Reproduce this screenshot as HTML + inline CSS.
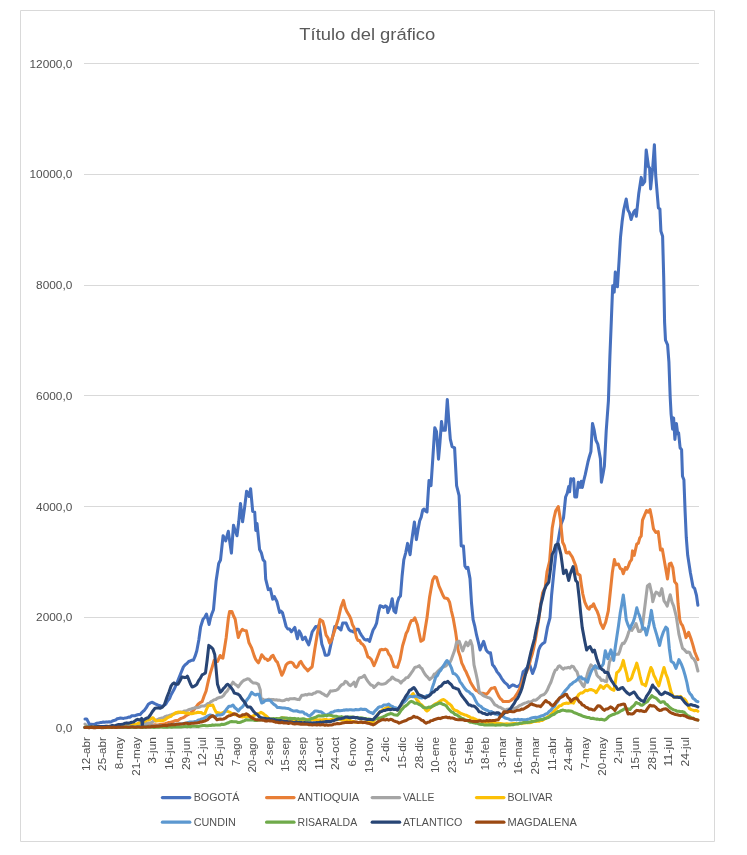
<!DOCTYPE html>
<html lang="es"><head><meta charset="utf-8"><title>Título del gráfico</title>
<style>html,body{margin:0;padding:0;background:#fff}svg{display:block}text{font-family:"Liberation Sans",sans-serif}</style></head>
<body>
<svg width="747" height="855" viewBox="0 0 747 855">
<rect x="0" y="0" width="747" height="855" fill="#fff"/>
<path d="M20.5 841.5 V10.5 H714.5 V841.5 Z" fill="none" stroke="#D9D9D9" stroke-width="1"/>
<text x="367.3" y="40.3" font-size="17.2" fill="#595959" text-anchor="middle" textLength="136" lengthAdjust="spacingAndGlyphs">Título del gráfico</text>
<g stroke="#D9D9D9" stroke-width="1" shape-rendering="crispEdges">
<line x1="84.3" y1="728.5" x2="698.6" y2="728.5"/>
<line x1="84.3" y1="617.5" x2="698.6" y2="617.5"/>
<line x1="84.3" y1="506.5" x2="698.6" y2="506.5"/>
<line x1="84.3" y1="395.5" x2="698.6" y2="395.5"/>
<line x1="84.3" y1="285.5" x2="698.6" y2="285.5"/>
<line x1="84.3" y1="174.5" x2="698.6" y2="174.5"/>
<line x1="84.3" y1="63.5" x2="698.6" y2="63.5"/>
</g>
<g font-size="11.2" text-anchor="end" fill="#505050">
<text x="72.3" y="732.1" textLength="16.5" lengthAdjust="spacingAndGlyphs">0,0</text>
<text x="72.3" y="621.3" textLength="36.2" lengthAdjust="spacingAndGlyphs">2000,0</text>
<text x="72.3" y="510.6" textLength="36.2" lengthAdjust="spacingAndGlyphs">4000,0</text>
<text x="72.3" y="399.8" textLength="36.2" lengthAdjust="spacingAndGlyphs">6000,0</text>
<text x="72.3" y="289.0" textLength="36.2" lengthAdjust="spacingAndGlyphs">8000,0</text>
<text x="72.3" y="178.2" textLength="42.8" lengthAdjust="spacingAndGlyphs">10000,0</text>
<text x="72.3" y="67.5" textLength="42.8" lengthAdjust="spacingAndGlyphs">12000,0</text>
</g>
<g font-size="11.1" text-anchor="end" fill="#505050">
<text transform="translate(89.84,737.0) rotate(-90)" textLength="33.9" lengthAdjust="spacingAndGlyphs">12-abr</text>
<text transform="translate(106.48,737.0) rotate(-90)" textLength="33.9" lengthAdjust="spacingAndGlyphs">25-abr</text>
<text transform="translate(123.11,737.0) rotate(-90)" textLength="32.3" lengthAdjust="spacingAndGlyphs">8-may</text>
<text transform="translate(139.75,737.0) rotate(-90)" textLength="38.7" lengthAdjust="spacingAndGlyphs">21-may</text>
<text transform="translate(156.39,737.0) rotate(-90)" textLength="26.7" lengthAdjust="spacingAndGlyphs">3-jun</text>
<text transform="translate(173.03,737.0) rotate(-90)" textLength="33.1" lengthAdjust="spacingAndGlyphs">16-jun</text>
<text transform="translate(189.66,737.0) rotate(-90)" textLength="33.1" lengthAdjust="spacingAndGlyphs">29-jun</text>
<text transform="translate(206.30,737.0) rotate(-90)" textLength="29.4" lengthAdjust="spacingAndGlyphs">12-jul</text>
<text transform="translate(222.94,737.0) rotate(-90)" textLength="29.4" lengthAdjust="spacingAndGlyphs">25-jul</text>
<text transform="translate(239.58,737.0) rotate(-90)" textLength="29.1" lengthAdjust="spacingAndGlyphs">7-ago</text>
<text transform="translate(256.21,737.0) rotate(-90)" textLength="35.5" lengthAdjust="spacingAndGlyphs">20-ago</text>
<text transform="translate(272.85,737.0) rotate(-90)" textLength="28.3" lengthAdjust="spacingAndGlyphs">2-sep</text>
<text transform="translate(289.49,737.0) rotate(-90)" textLength="34.7" lengthAdjust="spacingAndGlyphs">15-sep</text>
<text transform="translate(306.12,737.0) rotate(-90)" textLength="34.7" lengthAdjust="spacingAndGlyphs">28-sep</text>
<text transform="translate(322.76,737.0) rotate(-90)" textLength="33.1" lengthAdjust="spacingAndGlyphs">11-oct</text>
<text transform="translate(339.40,737.0) rotate(-90)" textLength="33.1" lengthAdjust="spacingAndGlyphs">24-oct</text>
<text transform="translate(356.04,737.0) rotate(-90)" textLength="29.4" lengthAdjust="spacingAndGlyphs">6-nov</text>
<text transform="translate(372.67,737.0) rotate(-90)" textLength="35.9" lengthAdjust="spacingAndGlyphs">19-nov</text>
<text transform="translate(389.31,737.0) rotate(-90)" textLength="25.3" lengthAdjust="spacingAndGlyphs">2-dic</text>
<text transform="translate(405.95,737.0) rotate(-90)" textLength="31.7" lengthAdjust="spacingAndGlyphs">15-dic</text>
<text transform="translate(422.59,737.0) rotate(-90)" textLength="31.7" lengthAdjust="spacingAndGlyphs">28-dic</text>
<text transform="translate(439.22,737.0) rotate(-90)" textLength="36.1" lengthAdjust="spacingAndGlyphs">10-ene</text>
<text transform="translate(455.86,737.0) rotate(-90)" textLength="36.1" lengthAdjust="spacingAndGlyphs">23-ene</text>
<text transform="translate(472.50,737.0) rotate(-90)" textLength="27.2" lengthAdjust="spacingAndGlyphs">5-feb</text>
<text transform="translate(489.13,737.0) rotate(-90)" textLength="33.6" lengthAdjust="spacingAndGlyphs">18-feb</text>
<text transform="translate(505.77,737.0) rotate(-90)" textLength="31.0" lengthAdjust="spacingAndGlyphs">3-mar</text>
<text transform="translate(522.41,737.0) rotate(-90)" textLength="37.4" lengthAdjust="spacingAndGlyphs">16-mar</text>
<text transform="translate(539.05,737.0) rotate(-90)" textLength="37.4" lengthAdjust="spacingAndGlyphs">29-mar</text>
<text transform="translate(555.68,737.0) rotate(-90)" textLength="33.9" lengthAdjust="spacingAndGlyphs">11-abr</text>
<text transform="translate(572.32,737.0) rotate(-90)" textLength="33.9" lengthAdjust="spacingAndGlyphs">24-abr</text>
<text transform="translate(588.96,737.0) rotate(-90)" textLength="32.3" lengthAdjust="spacingAndGlyphs">7-may</text>
<text transform="translate(605.60,737.0) rotate(-90)" textLength="38.7" lengthAdjust="spacingAndGlyphs">20-may</text>
<text transform="translate(622.23,737.0) rotate(-90)" textLength="26.7" lengthAdjust="spacingAndGlyphs">2-jun</text>
<text transform="translate(638.87,737.0) rotate(-90)" textLength="33.1" lengthAdjust="spacingAndGlyphs">15-jun</text>
<text transform="translate(655.51,737.0) rotate(-90)" textLength="33.1" lengthAdjust="spacingAndGlyphs">28-jun</text>
<text transform="translate(672.15,737.0) rotate(-90)" textLength="29.4" lengthAdjust="spacingAndGlyphs">11-jul</text>
<text transform="translate(688.78,737.0) rotate(-90)" textLength="29.4" lengthAdjust="spacingAndGlyphs">24-jul</text>
</g>
<g fill="none" stroke-width="3.05" stroke-linejoin="round" stroke-linecap="round">
<polyline stroke="#4670BE" points="85.0,719.0 86.7,719.0 88.1,721.6 89.4,724.4 91.4,724.2 93.4,724.4 95.1,724.1 96.8,723.2 98.4,723.1 100.1,722.6 101.6,722.4 103.2,722.1 104.7,722.3 106.2,721.9 107.7,722.1 109.3,721.8 110.8,722.0 112.4,721.0 114.0,720.5 115.6,720.1 117.2,718.8 118.8,718.4 120.4,718.0 122.0,718.2 123.7,718.4 125.3,717.9 126.9,717.7 128.6,717.1 130.2,717.1 131.8,715.8 133.5,715.7 135.2,715.7 136.8,715.0 138.5,714.5 140.2,714.6 141.6,712.8 142.9,711.5 144.3,710.3 146.3,707.6 148.3,704.3 150.3,702.9 152.3,702.3 154.3,703.4 156.3,704.3 158.1,705.2 159.9,705.7 161.7,706.6 163.7,705.5 165.7,704.3 167.7,700.8 169.7,698.3 171.1,694.8 172.6,692.1 174.0,689.6 176.0,685.2 178.0,680.2 180.7,673.5 182.1,670.1 183.4,666.9 185.2,664.7 186.9,663.5 188.7,661.5 190.3,661.0 191.8,660.2 193.4,660.2 195.1,656.2 196.8,650.8 198.8,640.0 200.6,627.0 203.0,619.2 204.8,617.3 206.5,614.0 209.1,624.4 210.4,618.4 211.8,614.0 213.5,609.7 216.1,580.9 218.7,563.5 220.5,560.0 223.1,535.7 225.7,540.9 228.3,531.3 229.9,542.5 231.4,553.1 233.5,525.2 235.2,530.6 237.0,535.7 238.8,521.3 240.5,503.5 242.6,521.8 244.6,507.6 246.6,491.3 249.2,496.5 250.6,488.7 252.7,511.3 254.7,512.2 255.8,530.5 257.0,523.5 259.6,549.6 261.3,552.7 263.1,559.8 264.8,561.8 265.7,579.2 268.3,589.6 270.4,588.8 272.7,599.2 274.4,596.6 277.0,601.8 279.6,612.5 281.0,611.2 282.4,612.5 284.2,619.2 286.1,626.5 287.8,629.0 289.6,629.0 291.3,631.8 293.1,629.6 294.8,627.4 297.4,638.7 299.2,630.9 300.9,633.9 302.6,639.6 305.2,637.0 306.9,641.4 308.7,644.8 310.4,639.0 312.2,631.8 313.9,629.4 315.7,626.5 317.4,626.9 319.2,625.0 321.8,644.0 323.6,649.2 325.3,655.3 327.0,655.3 328.7,654.4 331.4,642.2 333.1,634.6 334.8,626.5 336.6,627.2 338.3,627.4 340.9,630.0 342.7,623.1 344.4,623.0 346.1,623.1 347.6,626.7 349.0,629.6 350.5,630.9 351.9,631.1 353.4,632.0 354.8,631.8 356.6,629.2 358.3,629.2 359.8,632.4 361.2,634.8 362.7,637.0 364.4,639.4 366.1,640.0 367.9,639.6 369.6,641.3 371.4,635.3 373.1,630.0 374.9,627.1 376.6,623.1 378.4,612.8 380.1,605.7 381.9,606.4 383.6,607.4 385.3,605.9 387.0,606.8 387.8,612.6 390.4,606.5 392.2,598.7 393.9,610.9 395.7,612.6 397.4,602.2 398.9,597.7 400.5,596.0 402.1,576.0 403.8,559.8 405.7,552.8 407.6,543.4 410.1,554.7 411.5,542.2 413.0,531.8 414.4,522.0 416.4,539.6 418.0,529.7 419.7,520.8 421.2,517.1 422.7,510.2 424.1,509.0 425.6,511.2 427.0,512.0 429.0,480.5 431.0,485.6 432.9,456.9 434.8,427.7 436.5,431.5 438.5,459.2 440.0,442.0 441.5,421.5 442.8,430.3 445.3,430.3 447.3,399.6 448.8,420.7 450.3,439.0 452.1,446.6 454.6,447.9 456.6,485.6 459.1,495.6 461.2,545.9 463.4,545.9 464.9,566.0 466.4,568.3 467.9,567.3 470.0,578.6 471.5,603.0 473.1,619.6 474.9,626.7 476.6,635.2 478.4,642.4 480.1,650.0 481.9,645.3 483.6,641.3 486.2,650.0 487.6,651.8 489.1,652.9 490.5,652.7 492.5,664.8 494.0,666.4 495.5,668.8 497.0,671.8 498.5,673.5 500.1,675.7 501.6,678.3 503.1,680.5 504.6,682.4 506.1,683.6 507.6,684.9 509.1,687.5 510.9,686.1 512.6,684.9 514.1,685.3 515.5,686.1 517.0,686.6 518.8,686.0 520.5,684.0 523.1,671.8 524.5,670.7 526.0,668.9 527.4,667.4 529.2,663.1 530.9,668.5 532.6,673.5 535.2,666.6 537.0,658.7 538.7,650.0 540.5,645.9 542.2,644.0 544.8,642.2 547.4,627.4 550.0,617.8 551.6,595.0 553.9,571.8 556.5,547.5 558.0,541.7 559.4,533.6 560.9,524.8 563.5,517.9 565.6,497.0 567.2,493.4 568.7,486.5 569.6,491.8 570.8,478.7 572.2,480.0 573.6,478.7 574.8,497.0 576.6,497.0 578.3,482.2 580.0,487.4 581.3,481.3 582.3,487.4 583.8,480.4 585.3,474.4 587.9,462.2 589.4,456.5 590.9,451.6 592.5,423.5 594.2,430.2 595.9,440.3 597.8,444.1 600.4,458.7 601.4,482.2 602.9,474.7 604.4,466.0 606.2,431.0 608.4,401.0 609.9,356.1 611.4,318.7 612.7,285.8 614.2,292.1 615.3,272.1 617.4,286.8 619.1,260.5 620.5,237.4 622.1,221.8 623.7,210.0 626.2,199.1 627.9,210.0 629.5,212.8 631.1,219.5 632.5,215.1 633.9,211.7 635.3,210.0 636.3,216.3 638.8,193.2 641.2,177.4 642.6,184.7 644.7,181.6 646.2,150.0 648.5,166.8 649.6,167.9 650.6,188.9 652.7,167.9 654.4,144.7 655.7,175.3 658.4,207.9 659.9,208.9 660.9,231.1 662.6,236.3 663.7,277.4 664.6,322.5 665.5,340.2 667.6,344.9 668.9,361.8 670.2,397.3 671.1,414.1 672.6,429.1 673.6,417.9 674.9,439.4 676.4,423.5 677.7,433.8 678.6,432.9 680.1,447.8 681.6,449.7 682.5,476.3 683.9,479.8 685.1,511.4 686.3,537.7 687.7,555.3 690.4,572.8 693.0,586.8 694.7,588.6 696.5,595.5 697.9,605.2"/>
<polyline stroke="#E87E36" points="85.0,727.0 86.6,726.9 88.2,726.7 89.9,726.6 91.5,726.7 93.1,726.6 94.7,726.7 96.3,726.5 97.9,727.0 99.6,726.8 101.2,726.5 102.8,726.5 104.4,726.6 106.0,726.5 107.6,726.3 109.3,726.8 110.9,726.8 112.5,726.5 114.1,726.5 115.7,726.2 117.4,726.2 119.0,726.3 120.6,726.2 122.2,726.5 123.8,726.1 125.4,726.0 127.1,726.5 128.7,726.2 130.3,725.9 131.9,726.2 133.5,725.8 135.1,726.1 136.8,726.4 138.4,726.3 140.0,726.0 141.7,726.0 143.3,725.6 145.0,725.5 146.7,725.3 148.3,725.6 150.0,725.3 151.7,725.3 153.3,724.9 155.0,724.7 156.7,725.0 158.3,725.0 160.0,724.5 161.7,724.4 163.3,724.0 165.0,723.7 166.7,723.3 168.3,722.6 170.0,722.4 171.6,722.0 173.2,721.5 174.8,720.8 176.4,720.4 178.0,720.4 179.6,719.3 181.1,718.4 182.7,717.9 184.3,717.2 185.8,715.9 187.4,715.0 189.1,714.1 190.8,712.8 192.4,711.5 194.1,709.7 196.1,706.9 198.1,704.3 200.1,702.7 202.1,701.7 204.1,696.0 206.1,691.0 207.5,684.7 208.8,678.8 210.2,673.5 212.2,667.1 214.2,660.2 215.8,661.7 217.5,661.5 220.2,655.5 221.6,657.6 222.9,658.2 224.6,647.7 226.2,637.4 228.4,618.0 229.6,611.4 231.8,611.4 233.5,615.8 235.2,619.2 236.8,629.2 238.3,637.4 240.3,632.2 242.3,629.4 244.3,630.5 246.3,630.7 249.0,642.8 251.7,648.1 254.3,656.1 255.7,659.3 257.0,661.2 258.4,662.8 260.0,659.4 261.7,654.8 263.4,656.7 265.0,658.8 266.4,658.9 267.8,660.5 269.6,659.4 271.3,656.6 273.1,655.3 274.5,658.3 276.0,661.0 277.4,662.2 278.9,666.4 280.3,670.7 281.8,675.3 283.2,672.7 284.7,668.8 286.1,664.8 287.8,663.2 289.6,662.3 291.3,662.2 293.0,663.2 294.8,666.5 296.5,667.4 298.0,666.0 299.4,662.6 300.9,661.4 302.6,664.5 304.4,667.2 306.1,668.8 307.9,670.9 309.3,669.2 310.8,668.1 312.2,666.6 314.8,649.2 317.4,633.5 320.0,619.6 322.7,621.3 324.4,627.1 326.1,635.2 327.9,637.8 329.6,643.1 331.4,640.4 333.1,635.2 334.8,630.1 336.6,624.3 338.3,618.7 340.9,607.4 343.5,600.4 345.2,607.6 347.0,611.8 349.6,616.1 351.1,619.7 352.5,624.8 354.0,627.4 356.6,637.9 358.0,640.5 359.5,640.6 360.9,643.1 362.6,644.2 364.4,646.6 366.1,651.3 367.9,657.0 369.6,657.7 371.4,659.6 374.0,665.7 375.8,661.5 377.5,657.0 380.1,650.0 381.8,649.4 383.6,649.8 385.3,649.1 387.0,650.0 388.7,654.0 390.4,656.1 392.1,661.0 393.9,666.6 395.6,666.9 397.4,667.4 400.0,659.6 402.6,645.7 404.4,639.8 406.1,633.5 407.8,630.4 409.6,624.6 411.3,620.5 413.1,620.5 414.8,617.8 417.4,624.8 419.1,633.1 420.9,641.3 423.5,639.6 425.2,628.8 427.0,617.8 429.6,597.0 431.1,588.5 432.7,579.9 434.6,576.6 436.5,577.4 439.0,586.2 440.9,590.4 442.8,595.0 444.5,598.0 446.2,598.2 447.9,599.0 449.6,602.2 451.4,611.0 453.1,617.8 455.7,632.6 458.3,650.9 460.1,656.2 461.8,663.1 463.2,665.9 464.7,669.4 466.1,671.8 467.6,675.4 469.0,678.4 470.5,682.2 471.9,684.6 473.4,687.0 474.8,689.2 476.3,690.8 477.7,691.0 479.2,692.7 480.9,693.2 482.7,693.2 484.4,693.7 486.2,694.4 487.9,692.8 489.7,690.3 491.4,688.3 493.1,688.0 494.9,687.5 496.8,692.2 498.7,696.2 500.2,698.5 501.6,699.6 503.1,701.4 504.6,701.5 506.1,701.4 507.6,701.4 509.1,701.4 510.9,700.5 512.6,699.0 514.4,697.9 515.8,695.6 517.3,693.2 518.7,690.9 520.4,687.0 522.2,682.0 523.9,677.0 525.7,673.7 527.4,669.8 529.2,664.8 530.6,659.1 532.1,654.5 533.5,649.2 535.2,640.8 537.0,630.0 538.8,619.0 540.5,605.7 542.6,593.0 545.2,587.5 547.0,571.8 549.6,561.4 552.2,528.3 554.0,518.0 555.7,510.9 558.3,506.6 560.4,519.6 562.6,542.2 564.4,545.8 566.1,552.7 567.6,553.0 569.0,552.0 570.5,554.4 572.2,556.8 574.0,561.4 575.7,565.6 577.4,573.6 580.0,575.3 581.4,585.3 582.8,594.0 584.8,602.2 586.3,605.5 587.7,608.2 589.2,609.1 590.7,606.2 592.1,606.4 593.6,603.9 595.3,608.0 597.0,610.9 598.8,615.8 600.5,623.1 603.1,628.3 605.7,622.2 608.3,610.9 610.3,592.0 612.3,572.8 614.4,559.6 615.8,564.9 618.4,564.0 620.1,568.3 621.9,569.3 623.3,573.7 625.4,567.5 626.8,569.2 628.1,566.7 629.9,561.9 631.6,559.6 632.5,550.9 634.2,555.3 636.8,543.9 638.3,543.3 639.7,538.2 641.2,536.0 642.5,520.2 644.5,515.3 646.5,510.5 648.2,512.2 650.0,509.6 651.8,518.4 653.5,528.9 655.8,532.5 658.2,531.6 660.5,550.0 662.3,549.1 664.9,564.0 667.5,578.9 669.3,564.0 671.1,563.2 672.8,567.5 674.6,581.6 676.7,584.2 678.1,604.0 679.8,620.1 681.1,623.8 682.5,625.4 684.2,630.5 686.0,637.6 688.6,632.4 691.2,639.4 693.0,645.4 694.7,651.7 696.3,655.7 697.9,659.6"/>
<polyline stroke="#A5A5A5" points="85.0,724.0 86.5,725.4 88.0,727.0 89.6,726.8 91.2,726.8 92.8,727.1 94.4,726.6 96.0,726.9 97.6,726.8 99.2,726.5 100.8,726.7 102.4,726.9 104.0,726.8 105.6,726.5 107.2,727.0 108.8,726.9 110.4,726.9 112.0,726.4 113.6,726.5 115.2,726.3 116.8,726.7 118.4,726.4 120.0,726.5 121.6,726.1 123.2,726.1 124.7,726.2 126.3,726.0 127.9,725.4 129.5,725.2 131.1,725.5 132.6,725.1 134.2,725.0 135.8,724.4 137.4,724.2 138.9,724.4 140.5,724.1 142.1,723.6 143.7,724.0 145.3,723.6 146.8,723.6 148.4,722.9 150.0,723.0 151.7,722.5 153.4,721.1 155.2,721.0 156.9,719.9 158.6,719.0 160.3,718.4 161.8,718.0 163.4,717.8 164.9,716.7 166.4,716.1 167.9,716.0 169.5,715.3 171.0,715.0 172.6,714.2 174.3,713.8 175.9,713.2 177.6,712.9 179.2,712.5 180.8,712.0 182.5,712.0 184.1,711.1 185.8,710.9 187.4,710.4 189.0,709.6 190.5,709.3 192.1,708.5 193.7,708.3 195.2,707.6 196.8,707.7 198.4,707.5 199.9,706.9 201.4,706.0 203.0,705.9 204.6,705.9 206.1,705.0 207.7,703.5 209.3,703.3 211.0,701.7 212.6,700.8 214.2,699.7 215.8,699.5 217.3,698.2 218.8,697.7 220.4,697.2 221.9,696.9 223.5,695.6 225.3,692.9 227.1,691.2 228.9,688.3 230.9,685.6 232.9,682.2 234.7,684.0 236.5,685.2 238.3,686.9 240.3,684.0 242.3,681.6 244.0,680.2 245.7,679.6 247.3,678.8 249.0,678.9 251.0,681.3 253.0,682.9 254.8,683.0 256.6,683.3 258.4,684.3 260.3,690.0 261.0,699.6 262.6,699.1 264.1,700.0 265.7,700.1 267.3,699.8 268.8,699.3 270.4,699.6 271.9,699.4 273.4,699.6 274.9,699.9 276.4,699.7 277.9,700.2 279.4,700.1 280.9,700.5 282.4,700.8 283.9,700.6 285.4,699.8 286.8,699.2 288.3,699.9 289.8,698.8 291.3,698.8 292.9,698.8 294.5,698.5 296.0,699.1 297.6,699.4 299.2,699.6 301.8,695.3 303.5,695.2 305.3,694.6 307.0,694.9 308.7,694.0 310.5,694.2 312.2,694.4 313.7,693.2 315.2,693.0 316.8,691.8 318.3,691.8 320.0,692.0 321.8,693.3 323.5,694.1 325.3,695.4 327.0,696.2 328.8,693.6 330.5,690.9 332.0,691.1 333.6,690.7 335.1,690.6 336.6,690.1 338.3,688.9 340.1,686.4 341.8,684.6 343.6,684.0 345.3,681.4 347.0,682.2 348.8,684.6 350.5,685.7 352.2,684.2 354.0,682.2 355.7,686.6 357.4,681.5 359.2,677.9 360.9,677.6 362.7,676.9 364.4,675.3 366.1,678.6 367.9,681.4 369.4,683.3 370.9,685.0 372.5,685.4 374.0,687.5 375.4,686.1 376.9,684.6 378.3,683.1 380.1,684.0 381.8,684.2 383.6,684.0 385.3,683.6 387.0,682.2 388.7,680.6 390.5,679.4 392.2,677.0 393.9,678.5 395.7,679.8 397.4,680.2 399.2,681.1 400.9,683.1 402.6,680.9 404.4,679.7 406.1,677.7 407.9,677.5 409.6,675.3 411.3,672.8 413.1,670.3 414.8,667.4 416.3,667.1 417.7,666.6 419.2,665.7 420.6,667.7 422.1,668.8 423.5,671.8 425.0,674.3 426.6,676.2 428.1,677.7 429.6,679.6 431.2,678.1 432.7,676.8 434.3,674.1 435.8,673.8 437.4,671.8 439.1,670.0 440.9,668.3 442.6,667.4 444.4,666.6 446.1,665.9 447.9,663.6 449.6,663.1 451.4,659.3 453.1,654.4 454.9,649.5 456.6,642.2 459.2,641.3 460.9,646.1 462.7,650.9 464.4,646.2 466.1,642.2 467.9,645.7 470.5,640.5 472.2,645.7 474.0,664.8 475.8,672.6 477.5,680.5 479.2,691.8 480.9,693.5 482.7,695.1 484.4,696.2 486.1,696.9 487.9,697.5 489.6,697.9 491.4,699.7 493.1,702.1 494.9,704.9 496.6,705.5 498.4,706.9 500.1,707.2 501.8,708.3 503.8,709.3 505.7,710.1 507.4,709.2 509.2,708.9 510.9,708.8 512.7,708.8 514.4,708.3 516.1,707.6 517.9,706.8 519.6,705.5 521.3,704.9 523.1,703.9 524.8,703.1 526.5,702.6 528.3,701.8 530.0,702.3 531.8,701.4 533.5,700.1 535.2,700.3 537.0,699.3 538.7,697.9 540.5,695.9 542.2,695.2 544.0,694.5 545.7,692.7 547.4,689.9 549.2,685.6 550.9,682.2 552.4,677.8 553.8,673.6 555.3,670.1 556.7,669.5 558.2,666.6 559.6,665.7 561.4,667.6 563.1,669.2 564.8,667.9 566.6,668.0 568.3,667.4 570.0,668.1 571.8,666.1 573.5,666.6 575.2,669.8 577.0,671.8 579.6,680.5 581.1,682.5 582.5,685.2 584.0,686.6 585.8,680.4 587.5,673.5 589.2,668.6 590.9,664.8 592.6,666.5 594.4,666.6 597.0,675.3 598.5,677.0 599.9,677.9 601.4,680.5 603.1,680.0 604.9,681.2 606.6,681.5 608.0,671.7 609.4,662.0 610.9,659.3 612.5,656.6 614.0,655.2 615.5,654.5 616.9,654.2 618.4,654.3 619.8,651.2 621.1,646.4 622.5,643.3 624.0,643.5 625.4,641.1 627.1,637.2 628.9,631.5 630.4,629.2 631.8,630.4 633.3,628.0 634.6,626.5 636.0,623.6 638.6,631.5 640.4,631.4 642.1,628.9 644.7,607.8 647.4,586.0 649.6,584.2 651.8,593.9 652.8,601.7 654.7,595.0 656.1,592.1 657.9,593.0 659.6,595.6 661.8,588.6 664.0,600.8 665.6,603.0 667.2,606.1 668.7,600.0 670.2,594.7 672.0,602.2 673.7,606.1 676.3,616.6 678.9,634.1 680.7,641.4 682.5,648.2 683.9,649.3 685.4,650.9 686.8,652.5 688.1,652.0 689.5,652.5 692.1,657.8 693.9,659.0 695.6,662.2 697.9,671.0"/>
<polyline stroke="#FCC006" points="85.0,727.3 86.6,727.0 88.2,727.5 89.8,727.1 91.4,727.5 93.0,727.1 94.5,727.1 96.1,727.2 97.7,727.0 99.3,727.1 100.9,727.4 102.5,727.4 104.1,727.3 105.7,727.2 107.3,727.4 108.9,727.4 110.5,727.1 112.0,727.2 113.6,726.8 115.2,727.2 116.8,727.0 118.4,727.2 120.0,727.0 121.6,726.8 123.2,726.3 124.8,725.8 126.4,726.1 128.0,725.3 129.6,725.2 131.2,724.8 132.8,724.5 134.4,724.5 136.0,724.3 137.6,723.7 139.1,723.0 140.6,722.8 142.1,722.1 143.6,721.7 145.1,721.1 146.6,720.4 148.1,719.9 149.6,719.7 151.3,718.5 153.0,717.7 154.7,719.7 156.3,721.0 158.0,720.8 159.7,720.5 161.3,720.9 163.0,720.4 164.6,720.0 166.2,718.7 167.8,717.6 169.4,716.9 171.0,716.3 172.4,715.0 173.8,714.2 175.3,713.0 176.7,712.4 178.4,712.1 180.1,712.2 181.7,712.5 183.4,712.4 185.0,713.0 186.6,713.2 188.2,713.1 189.8,713.4 191.4,713.7 193.0,713.5 194.6,713.1 196.3,712.8 197.9,712.2 199.5,712.4 201.3,712.6 203.0,713.7 204.8,713.7 206.5,709.3 208.2,705.7 209.7,705.5 211.3,705.4 212.8,705.0 214.5,709.1 216.2,712.4 217.8,712.6 219.3,713.0 220.9,713.7 222.7,712.6 224.4,711.8 226.2,711.0 228.2,711.6 230.2,712.4 231.8,713.5 233.3,714.1 234.9,714.7 236.5,714.6 238.0,715.3 239.6,716.4 241.1,716.7 242.7,716.9 244.2,716.6 245.7,716.8 247.2,716.4 248.8,716.8 250.3,717.0 252.0,716.6 253.7,715.6 255.3,714.9 257.0,713.7 259.0,713.5 261.0,712.4 262.4,713.1 263.8,714.0 265.2,715.3 266.9,716.5 268.7,718.3 270.4,719.7 271.9,719.6 273.4,719.7 274.9,719.3 276.4,719.0 278.0,718.9 279.5,718.5 281.0,718.3 282.5,717.7 284.0,717.9 285.5,718.5 287.1,718.4 288.6,719.4 290.2,719.5 291.7,719.6 293.3,719.8 294.8,720.5 296.4,720.2 297.9,720.5 299.5,720.4 301.1,719.9 302.6,719.8 304.2,720.1 305.7,720.1 307.3,719.8 308.9,719.6 310.4,719.9 312.0,719.7 313.6,719.3 315.2,719.5 316.8,719.7 318.4,720.1 320.0,719.8 321.5,720.0 323.1,719.7 324.7,719.5 326.3,719.5 327.9,720.1 329.5,719.9 331.1,719.5 332.7,719.3 334.3,719.7 335.9,719.8 337.5,719.6 339.0,719.5 340.6,719.8 342.2,720.0 343.8,719.5 345.4,719.3 347.0,719.7 348.7,720.1 350.5,720.7 352.2,721.4 354.0,721.6 355.7,722.3 357.3,722.5 358.8,722.5 360.4,722.3 362.0,722.1 363.6,722.6 365.1,722.2 366.7,722.5 368.3,722.1 369.9,722.1 371.4,722.5 373.0,722.3 374.7,719.4 376.3,717.2 378.0,714.0 379.5,712.7 381.0,711.2 382.5,710.0 384.0,709.0 385.6,708.1 387.1,707.6 388.7,706.6 390.4,707.8 392.2,707.6 393.9,708.6 395.7,709.1 397.4,710.1 399.1,708.5 400.9,705.5 402.6,703.3 404.4,701.2 406.1,699.6 407.9,697.9 409.6,697.1 411.4,695.6 413.1,693.5 414.8,696.5 416.6,699.4 418.3,701.4 420.0,703.8 421.8,705.0 423.5,706.8 425.3,709.5 427.0,711.0 428.8,709.7 430.5,707.4 432.2,706.6 434.0,704.9 435.6,703.9 437.2,703.0 438.8,702.0 440.3,701.0 441.9,699.9 443.5,699.6 445.0,700.4 446.6,701.6 448.1,703.4 449.6,704.0 451.3,705.6 453.1,708.6 454.8,710.1 456.5,710.7 458.3,711.7 460.0,713.0 461.8,713.8 463.5,714.4 465.0,715.0 466.5,715.3 468.0,716.3 469.5,716.8 471.0,717.9 472.5,717.9 474.0,718.8 475.7,719.3 477.5,720.3 479.2,720.2 480.9,721.1 482.7,722.0 484.4,722.3 486.0,722.6 487.6,722.2 489.1,722.3 490.7,722.5 492.3,723.2 493.9,722.9 495.5,723.4 497.1,723.6 498.6,723.3 500.2,723.4 501.8,723.7 503.4,724.1 505.1,723.9 506.7,723.7 508.4,724.1 510.0,724.0 511.6,723.8 513.3,723.6 514.9,723.4 516.6,723.8 518.2,723.8 519.9,723.5 521.5,723.6 523.2,722.9 524.8,723.1 526.4,722.7 528.0,722.6 529.5,722.7 531.1,722.5 532.7,721.8 534.3,721.5 535.9,721.4 537.5,721.2 539.0,721.3 540.6,720.5 542.2,720.5 543.9,719.5 545.7,718.3 547.4,717.1 549.2,715.9 550.9,714.4 552.6,712.8 554.4,710.7 556.1,709.0 557.9,707.3 559.6,705.7 561.4,705.4 563.1,703.9 564.9,703.4 566.6,703.1 568.3,703.4 570.0,702.8 571.8,702.6 573.5,703.1 575.3,699.6 577.0,697.4 578.8,694.4 580.5,693.1 582.2,693.0 584.0,691.7 585.7,690.1 587.5,690.8 589.2,689.7 591.0,689.5 592.7,690.1 594.5,690.8 596.2,692.7 597.6,690.3 599.1,688.2 600.5,685.5 602.0,686.9 603.5,688.5 605.2,686.3 607.0,685.0 608.8,686.6 610.5,688.5 612.2,689.6 614.0,690.3 615.4,681.8 616.7,672.7 618.5,671.4 620.2,669.2 621.8,665.5 623.3,660.4 624.9,667.5 626.5,673.1 628.1,680.6 629.9,679.9 631.6,678.0 633.3,672.6 635.1,668.2 636.8,663.1 638.6,669.8 640.3,677.5 642.1,684.1 643.9,684.5 645.6,685.9 647.4,679.3 649.1,673.1 650.9,667.5 652.4,670.3 653.8,675.2 655.3,678.0 657.0,682.1 658.8,685.9 660.5,679.5 662.3,673.4 664.0,667.5 665.8,673.7 667.5,678.0 669.3,685.0 671.1,692.0 673.7,697.3 675.5,696.7 677.2,697.3 679.0,696.8 680.7,696.4 682.5,698.5 684.2,698.8 686.0,700.8 687.8,704.7 689.5,708.7 691.2,709.6 692.9,710.1 694.5,710.7 696.2,710.3 697.9,711.3"/>
<polyline stroke="#5C98D0" points="85.0,727.3 86.6,727.2 88.2,727.0 89.8,727.1 91.4,727.5 93.0,727.3 94.6,727.5 96.2,727.1 97.9,727.4 99.5,727.2 101.1,727.0 102.7,727.4 104.3,727.4 105.9,726.9 107.5,727.2 109.1,727.2 110.7,727.0 112.3,727.0 113.9,726.9 115.5,726.9 117.1,726.9 118.8,727.1 120.4,727.2 122.0,726.9 123.6,726.7 125.2,726.9 126.8,727.1 128.4,726.8 130.0,727.0 131.6,726.8 133.2,726.7 134.7,727.0 136.3,726.8 137.9,726.5 139.5,726.4 141.1,726.6 142.6,726.6 144.2,726.6 145.8,726.2 147.4,726.2 148.9,726.5 150.5,726.3 152.1,726.1 153.7,726.1 155.3,726.4 156.8,726.0 158.4,726.1 160.0,726.0 161.7,725.7 163.3,725.6 165.0,725.7 166.7,725.7 168.3,725.1 170.0,724.8 171.7,725.0 173.3,724.5 175.0,724.2 176.7,724.6 178.3,724.1 180.0,724.0 181.7,723.9 183.3,723.4 185.0,723.4 186.7,722.9 188.3,722.4 190.0,722.0 191.7,722.1 193.3,721.9 195.0,721.5 196.7,721.2 198.4,719.9 200.1,719.7 201.8,718.9 203.5,718.4 205.2,717.6 206.8,716.4 208.5,715.7 210.2,715.0 212.2,715.7 214.2,716.4 215.8,716.3 217.3,715.1 218.8,715.0 220.4,714.9 221.9,714.6 223.5,713.7 225.3,710.9 227.1,708.4 228.9,706.3 230.9,706.2 232.9,705.0 234.7,707.5 236.5,709.0 238.3,711.0 240.3,708.5 242.3,707.0 244.1,704.8 245.8,701.5 247.6,699.0 249.0,697.3 250.3,694.7 251.7,692.3 253.7,694.1 255.7,695.0 257.4,694.2 259.0,694.3 261.7,703.0 263.3,702.4 264.8,700.9 266.4,700.3 268.4,700.3 270.4,700.5 272.1,702.7 273.9,704.4 275.6,705.4 277.4,707.5 279.1,707.4 280.9,707.7 282.6,708.0 284.4,708.0 286.1,708.3 287.8,708.4 289.6,709.1 291.3,710.2 293.1,710.9 294.8,711.0 296.6,710.7 298.3,711.5 300.1,711.9 301.8,711.8 303.4,712.2 304.9,713.9 306.5,714.1 308.0,715.4 309.6,716.2 311.3,714.5 313.1,712.9 314.8,711.0 316.3,711.0 317.9,711.3 319.4,711.7 320.9,711.8 322.6,712.9 324.4,714.3 326.1,715.3 327.8,714.4 329.6,713.5 331.3,712.3 333.1,712.0 334.8,711.0 336.5,710.8 338.3,710.4 340.0,710.7 341.8,710.6 343.5,710.1 345.0,710.1 346.5,709.8 348.0,710.1 349.5,709.7 351.0,709.7 352.5,710.0 354.0,710.1 355.7,709.5 357.5,709.7 359.2,709.7 360.9,709.0 362.7,709.5 364.4,709.2 366.1,709.6 367.9,711.2 369.6,712.1 371.4,712.7 373.1,713.6 374.8,711.1 376.6,709.5 378.3,707.5 380.1,706.7 381.8,706.7 383.6,705.1 385.3,704.9 387.0,704.9 388.7,704.0 390.4,705.6 392.2,706.3 393.9,707.5 395.7,707.8 397.4,709.2 399.1,707.7 400.9,705.1 402.6,703.1 404.4,701.9 406.1,700.2 407.9,697.5 409.6,696.2 411.3,696.6 413.1,696.8 414.8,696.2 416.6,696.0 418.3,696.8 420.1,697.8 421.8,697.9 423.5,696.7 425.3,697.0 427.0,695.5 428.8,695.5 430.5,694.4 432.2,688.0 434.0,682.8 435.7,677.0 437.4,675.5 439.2,671.8 440.9,670.1 442.4,667.2 443.9,665.3 445.5,662.5 447.0,660.5 449.6,664.0 451.4,667.8 453.1,673.5 454.9,673.8 456.6,675.3 458.3,677.6 460.1,681.9 461.8,684.0 463.5,686.6 465.3,689.2 467.0,690.9 468.7,691.6 470.5,693.6 472.2,694.4 474.0,697.1 475.7,700.8 477.5,704.0 479.2,705.5 480.9,706.4 482.7,708.3 484.4,709.2 486.1,710.0 487.9,710.7 489.6,711.7 491.4,711.6 493.1,712.7 494.8,713.9 496.6,714.2 498.3,714.7 500.1,715.8 501.8,716.2 503.4,716.7 505.1,718.0 506.7,718.4 508.4,718.9 510.0,719.7 511.6,719.9 513.3,719.7 514.9,719.4 516.6,719.9 518.2,719.3 519.9,720.0 521.5,719.5 523.2,719.8 524.8,719.7 526.3,719.8 527.9,719.2 529.4,718.9 531.0,718.3 532.5,717.8 534.1,717.5 535.6,717.3 537.2,717.4 538.7,717.0 540.4,716.3 542.2,715.7 543.9,715.3 545.7,713.9 547.4,713.6 549.1,711.6 550.9,710.3 552.6,707.8 554.4,706.6 556.1,703.4 557.9,701.2 559.6,698.3 561.4,696.2 563.1,693.7 564.9,691.1 566.6,689.2 568.4,687.2 570.1,684.9 571.8,683.9 573.6,682.1 575.3,681.4 576.7,680.2 578.2,678.4 579.6,677.0 581.1,676.9 582.5,679.0 584.0,678.8 585.8,680.1 587.5,682.2 588.9,677.5 590.4,673.4 591.8,670.1 593.5,668.2 595.3,665.7 597.0,667.8 598.8,668.3 600.4,667.7 602.0,666.0 603.3,664.0 605.3,650.8 607.9,658.7 609.4,654.1 610.9,649.9 612.3,654.6 613.7,660.4 615.2,647.8 616.7,637.6 618.5,625.8 620.2,613.1 621.8,604.3 623.3,595.0 624.8,607.0 626.3,620.1 628.0,624.9 629.8,628.9 631.5,625.2 633.3,621.8 635.0,616.2 636.8,607.8 638.1,612.5 639.5,615.7 641.2,621.5 643.0,628.9 644.7,628.0 646.5,635.0 649.1,624.5 651.4,610.4 652.9,620.1 654.4,627.1 657.0,635.9 659.6,645.5 661.4,637.7 663.2,632.4 665.8,627.1 667.5,628.9 669.3,648.2 671.1,661.3 673.7,663.1 676.0,668.3 677.5,664.0 678.9,659.6 680.2,662.0 681.6,664.8 683.4,669.6 685.1,675.4 686.9,682.5 688.6,691.1 690.1,693.9 691.5,695.2 693.0,698.2 694.6,699.4 696.3,701.1 697.9,701.7"/>
<polyline stroke="#6FAA4A" points="85.0,727.5 86.6,727.3 88.2,727.3 89.8,727.5 91.4,727.5 93.0,727.5 94.6,727.6 96.2,727.2 97.8,727.3 99.4,727.3 101.0,727.1 102.6,727.6 104.2,727.6 105.8,727.5 107.5,727.1 109.1,727.6 110.7,727.5 112.3,727.3 113.9,727.5 115.5,727.3 117.1,727.1 118.7,727.1 120.3,727.1 121.9,727.0 123.5,727.2 125.1,727.4 126.7,727.4 128.3,727.5 129.9,727.4 131.5,727.1 133.1,727.3 134.7,727.2 136.3,727.4 137.9,727.2 139.5,727.0 141.1,727.3 142.7,727.4 144.3,727.0 145.9,727.4 147.5,726.8 149.2,727.0 150.8,726.9 152.4,727.3 154.0,727.4 155.6,727.2 157.2,727.0 158.8,727.3 160.4,726.9 162.0,726.9 163.6,727.3 165.2,727.1 166.8,727.1 168.4,727.1 170.0,727.0 171.6,727.3 173.2,726.9 174.7,727.1 176.3,727.0 177.9,727.0 179.5,726.7 181.0,726.9 182.6,726.8 184.2,726.6 185.8,726.5 187.3,726.7 188.9,726.3 190.5,726.8 192.1,726.3 193.6,726.2 195.2,726.2 196.8,726.4 198.4,726.6 199.9,726.1 201.5,725.8 203.1,725.6 204.7,725.5 206.2,725.8 207.8,725.7 209.4,725.6 210.9,725.5 212.5,724.9 214.1,725.2 215.6,724.9 217.2,725.1 218.8,725.0 220.4,724.9 221.9,724.2 223.5,724.4 225.2,724.0 226.8,723.3 228.5,722.7 230.2,721.7 231.8,721.5 233.3,721.7 234.9,721.8 236.5,721.8 238.0,722.5 239.6,722.4 241.3,722.0 242.9,721.2 244.6,720.6 246.3,719.7 248.0,720.0 249.8,719.9 251.5,719.9 253.3,720.0 255.0,720.5 256.7,720.5 258.3,719.9 260.0,719.9 261.7,719.8 263.3,719.3 265.0,719.3 266.7,719.2 268.3,719.3 270.0,719.0 271.7,718.8 273.3,718.6 275.0,719.0 276.7,718.6 278.3,718.7 280.0,718.4 281.7,717.8 283.3,718.0 285.0,718.0 286.6,718.1 288.3,718.5 289.9,718.2 291.6,718.6 293.2,718.6 294.8,718.4 296.5,719.1 298.1,718.6 299.8,719.3 301.4,718.9 303.0,718.8 304.7,719.1 306.3,719.7 308.0,720.0 309.6,719.7 311.2,718.6 312.7,718.3 314.3,717.6 315.8,717.2 317.4,716.2 318.9,715.8 320.4,716.0 322.0,715.7 323.5,716.0 325.0,715.4 326.6,715.9 328.1,715.2 329.6,715.3 331.3,715.4 333.1,716.2 334.8,716.3 336.6,716.3 338.3,717.0 339.8,717.1 341.4,716.6 342.9,717.2 344.4,717.2 345.9,717.2 347.4,717.1 349.0,716.9 350.5,717.0 352.2,717.1 353.9,717.3 355.6,717.9 357.2,717.4 358.9,718.3 360.6,717.7 362.3,718.1 364.0,718.5 365.5,718.5 367.0,719.2 368.6,719.1 370.1,719.2 371.6,719.8 373.1,719.7 374.8,719.0 376.6,718.8 378.3,718.4 380.0,717.9 381.7,717.4 383.5,716.7 385.2,715.9 386.9,714.9 388.7,714.2 390.4,713.6 392.1,713.7 393.9,714.8 395.6,715.0 397.4,715.3 399.1,713.4 400.9,710.6 402.6,708.7 404.4,706.6 406.1,705.6 407.9,704.1 409.6,702.2 411.3,701.4 413.1,702.0 414.8,703.2 416.6,703.0 418.3,704.0 420.0,704.8 421.8,706.1 423.5,707.5 425.2,707.7 427.0,707.9 428.8,707.1 430.5,707.5 432.2,706.2 434.0,705.5 435.7,704.7 437.5,704.0 439.2,703.1 440.9,703.3 442.6,704.2 444.4,704.7 446.1,705.7 447.9,708.2 449.6,710.0 451.4,711.8 453.1,712.5 454.9,714.4 456.6,714.7 458.3,716.2 459.8,716.9 461.4,718.1 462.9,718.7 464.4,719.4 465.9,720.0 467.4,720.5 469.0,721.6 470.5,722.3 472.0,722.3 473.6,722.7 475.1,723.1 476.7,723.1 478.2,723.7 479.8,724.2 481.3,724.5 482.9,724.6 484.4,724.9 486.0,725.0 487.6,724.9 489.2,724.7 490.8,725.0 492.4,724.8 494.0,725.1 495.6,725.2 497.2,724.9 498.8,724.9 500.4,725.1 502.0,724.8 503.6,724.7 505.2,725.0 506.8,725.2 508.4,725.1 510.0,724.9 511.5,724.8 513.0,724.7 514.6,724.3 516.1,724.0 517.7,723.9 519.3,723.5 520.8,723.2 522.4,723.1 524.0,722.5 525.6,722.5 527.2,722.6 528.8,722.3 530.3,722.0 531.9,721.4 533.5,721.4 535.0,721.0 536.6,720.6 538.1,720.3 539.7,719.8 541.2,719.6 542.8,719.4 544.3,718.4 545.9,718.4 547.4,717.9 549.1,717.1 550.9,715.7 552.6,714.8 554.4,714.2 556.1,712.7 557.9,711.6 559.6,711.4 561.4,710.4 563.1,710.1 564.9,710.6 566.6,710.9 568.4,710.7 570.1,710.9 571.8,711.2 573.5,712.3 575.3,713.0 577.0,713.6 578.7,714.5 580.5,715.0 582.2,715.8 584.0,716.6 585.7,717.0 587.4,717.4 589.2,717.6 590.9,718.5 592.7,718.2 594.4,718.8 596.1,719.1 597.9,719.1 599.6,719.6 601.4,719.2 603.1,719.7 604.4,720.1 605.9,719.4 607.5,717.8 609.0,716.4 610.5,715.7 612.2,714.8 614.0,714.3 615.8,713.3 617.5,713.1 619.3,711.9 621.0,710.8 622.8,710.0 624.6,708.7 626.4,708.8 628.2,709.0 630.0,709.5 631.5,707.5 633.0,706.3 634.5,704.8 636.0,702.5 637.5,703.2 639.0,703.5 640.6,704.9 642.1,705.2 643.9,703.9 645.6,702.5 647.4,701.7 648.9,699.2 650.3,697.9 651.8,695.5 653.2,696.8 654.7,697.5 656.1,698.2 657.6,699.6 659.0,701.1 660.5,702.5 662.2,701.8 664.0,701.7 665.5,703.8 667.1,704.6 668.7,706.4 670.2,707.8 672.0,709.0 673.7,709.9 675.5,710.4 677.2,711.3 679.0,711.3 680.7,711.8 682.5,711.6 684.2,712.2 686.0,714.3 687.7,715.7 689.5,716.4 691.2,717.7 693.0,718.1 694.7,719.2 696.3,719.6 697.9,720.1"/>
<polyline stroke="#284575" points="85.0,727.5 86.6,727.3 88.2,727.3 89.8,727.0 91.5,726.8 93.1,727.2 94.7,726.8 96.3,726.7 97.9,726.6 99.5,726.6 101.1,726.5 102.7,726.6 104.3,726.5 106.0,726.2 107.6,726.5 109.2,726.3 110.8,726.0 112.4,725.4 113.9,725.7 115.5,725.5 117.1,725.1 118.6,724.4 120.2,724.4 121.9,724.3 123.5,723.9 125.2,723.2 126.8,722.9 128.5,723.3 130.2,722.8 131.8,722.2 133.5,722.1 134.9,720.9 136.2,720.0 137.6,719.4 140.2,720.0 141.6,718.4 142.3,725.5 143.0,720.0 144.3,719.4 146.3,718.3 148.3,717.7 150.3,715.0 152.3,711.7 155.0,708.3 156.8,708.1 158.5,707.9 160.3,708.3 162.3,707.1 164.3,705.0 167.0,697.0 169.0,692.0 171.0,686.2 172.5,684.0 174.0,682.9 176.0,684.3 178.0,684.3 180.0,680.8 182.0,676.9 184.7,677.6 186.1,677.4 187.4,676.2 189.0,680.1 190.5,684.0 192.1,686.9 193.7,686.5 195.2,685.7 196.8,684.3 198.6,680.6 200.3,678.4 202.1,674.9 203.8,674.0 205.5,672.9 207.2,659.7 208.8,645.4 210.8,646.9 212.8,648.8 214.8,654.8 217.5,684.3 220.2,692.3 221.8,690.9 223.5,688.3 224.9,687.1 226.2,685.3 227.6,684.3 229.6,685.9 231.6,688.3 232.9,690.1 234.3,693.0 236.3,693.6 238.3,694.3 239.9,695.7 241.4,698.3 243.0,700.3 244.5,702.1 246.1,704.8 247.6,707.0 248.9,707.0 250.3,707.0 252.1,709.3 253.9,711.8 255.7,713.7 257.5,714.6 259.2,716.7 261.0,717.7 262.5,717.9 264.0,718.2 265.5,718.5 267.0,718.9 268.5,718.8 270.0,719.1 271.5,719.3 273.0,720.0 274.4,719.6 275.9,720.3 277.4,720.5 279.0,720.8 280.6,720.5 282.1,721.1 283.7,721.3 285.3,721.6 286.9,721.4 288.5,722.0 290.1,721.8 291.6,722.0 293.2,722.4 294.8,722.3 296.4,722.0 298.0,722.6 299.5,722.6 301.1,722.4 302.7,722.9 304.3,722.6 305.9,722.7 307.5,722.8 309.0,723.1 310.6,722.7 312.2,723.0 313.8,722.8 315.4,722.7 316.9,722.6 318.5,722.7 320.1,722.1 321.7,722.4 323.3,721.9 324.9,721.8 326.4,721.5 328.0,721.6 329.6,721.4 331.2,721.4 332.8,720.7 334.3,720.4 335.9,719.7 337.5,719.3 339.1,718.8 340.7,718.7 342.3,718.3 343.8,718.0 345.4,717.0 347.0,717.0 348.6,717.4 350.2,717.7 351.7,717.5 353.3,717.3 354.9,717.6 356.5,717.6 358.1,717.9 359.7,718.7 361.2,718.6 362.8,718.8 364.4,718.8 366.1,719.2 367.9,719.5 369.6,719.4 371.4,719.6 373.1,719.7 374.8,717.8 376.6,715.9 378.3,713.9 380.0,711.8 381.7,711.5 383.5,710.5 385.2,710.4 387.0,709.7 388.7,709.2 390.4,709.7 392.2,709.1 393.9,709.4 395.7,709.4 397.4,710.1 399.1,707.5 400.9,704.8 402.6,701.4 404.4,698.8 406.1,695.6 407.9,693.4 409.6,690.1 411.0,689.7 412.5,688.5 413.9,687.5 415.4,689.4 416.8,691.8 418.3,694.4 420.0,695.2 421.8,695.9 423.5,696.9 425.2,697.9 427.0,696.9 428.7,696.2 430.5,694.4 432.2,692.5 433.9,691.9 435.7,689.8 437.4,689.2 439.1,686.9 440.9,686.2 442.6,684.1 444.4,682.2 446.1,682.5 447.9,681.4 449.6,683.3 451.4,684.7 453.1,687.5 454.8,687.9 456.6,688.8 458.3,689.2 460.0,692.7 461.8,695.7 463.5,697.9 465.3,700.2 467.0,702.5 468.8,704.9 470.3,704.9 471.8,705.9 473.3,705.9 474.8,706.6 476.3,708.0 477.7,709.6 479.2,711.8 480.9,712.0 482.7,713.3 484.4,713.4 486.2,714.4 487.7,714.6 489.2,713.6 490.7,714.1 492.2,713.2 493.8,712.9 495.3,713.3 496.8,712.7 498.3,712.7 500.1,714.2 501.8,715.3 503.3,714.0 504.7,712.8 506.2,712.4 507.6,711.4 509.1,710.1 510.9,708.2 512.6,705.7 514.4,703.1 515.8,700.3 517.3,698.7 518.7,696.2 520.5,692.2 522.2,687.5 524.0,680.4 525.7,673.5 527.5,667.4 529.2,659.6 530.9,652.1 532.6,645.7 534.4,639.1 536.1,630.0 537.9,622.0 539.6,612.6 541.1,603.6 542.6,598.0 544.4,590.0 546.1,585.7 548.7,582.3 550.5,569.0 552.2,554.4 554.0,551.0 555.7,544.9 558.3,544.0 560.9,554.4 563.5,573.6 566.1,570.1 568.7,580.5 570.2,574.1 571.6,570.4 573.1,566.6 575.7,580.5 577.4,582.3 579.2,598.0 580.7,613.5 582.2,627.4 584.8,641.3 586.6,650.0 588.4,647.5 590.1,646.6 592.7,651.8 594.4,650.0 597.0,659.6 598.8,664.6 600.5,668.0 602.0,669.5 603.4,670.1 604.9,672.5 606.4,672.3 607.9,672.7 609.6,676.8 611.4,680.6 612.9,682.7 614.5,685.3 616.0,686.6 617.5,689.4 619.3,689.3 621.0,688.0 622.8,687.6 624.5,690.0 626.3,692.0 628.0,693.5 629.8,694.6 631.3,693.6 632.7,692.7 634.2,692.0 636.0,694.7 637.7,697.3 639.5,699.0 641.0,700.3 642.4,700.9 643.9,701.7 645.3,698.8 646.8,695.8 648.2,693.8 649.7,691.6 651.1,688.3 652.6,685.0 654.1,687.3 655.5,688.3 657.0,690.3 658.5,691.9 659.9,693.9 661.4,694.6 663.1,693.8 664.9,692.0 666.7,693.0 668.4,693.5 670.2,694.6 671.9,695.4 673.7,696.9 675.4,697.3 677.2,697.1 678.9,697.5 680.7,697.3 682.5,699.4 684.2,701.7 686.0,703.6 687.7,705.2 689.5,705.0 691.2,704.6 693.0,705.2 694.6,705.5 696.3,706.2 697.9,706.9"/>
<polyline stroke="#9B4912" points="85.0,727.5 86.6,727.5 88.2,727.6 89.8,727.6 91.3,727.2 92.9,727.6 94.5,727.6 96.1,727.6 97.7,727.4 99.3,727.3 100.9,727.6 102.4,727.6 104.0,727.5 105.6,727.6 107.2,727.2 108.8,727.1 110.4,727.3 112.0,727.5 113.5,727.1 115.1,727.4 116.7,727.5 118.3,727.1 119.9,727.3 121.5,727.3 123.0,727.2 124.6,727.0 126.2,727.0 127.8,727.3 129.4,727.3 131.0,727.1 132.6,726.9 134.1,727.3 135.7,727.3 137.3,726.9 138.9,727.1 140.5,727.3 142.1,727.3 143.7,727.1 145.2,727.0 146.8,727.1 148.4,726.8 150.0,727.0 151.7,726.6 153.3,726.5 155.0,726.6 156.7,726.2 158.3,726.2 160.0,725.9 161.7,725.8 163.3,725.4 165.0,725.2 166.7,725.7 168.3,725.1 170.0,725.0 171.7,724.6 173.3,724.8 175.0,724.7 176.7,724.1 178.4,724.3 180.1,723.9 181.7,723.9 183.4,723.7 185.1,723.3 186.8,723.2 188.4,723.8 190.1,723.6 191.8,723.3 193.5,723.2 195.1,722.9 196.8,723.0 198.4,722.8 199.9,722.1 201.4,722.0 203.0,721.5 204.6,721.1 206.1,720.4 207.8,719.6 209.4,717.8 211.1,716.5 212.8,715.7 214.2,716.8 215.5,718.1 216.9,719.7 218.6,719.2 220.2,719.0 221.8,719.2 223.5,719.0 225.3,718.2 227.1,716.8 228.9,715.7 230.7,715.4 232.5,714.7 234.3,713.7 236.1,714.2 237.8,715.6 239.6,716.4 241.3,715.6 242.9,714.7 244.6,714.8 246.3,713.7 248.1,714.8 249.9,716.4 251.7,717.7 253.5,718.5 255.2,719.4 257.0,719.7 258.6,720.0 260.2,719.9 261.9,720.1 263.5,720.1 265.1,720.9 266.8,721.1 268.4,720.6 270.0,721.0 271.5,720.9 273.0,721.3 274.4,721.7 275.9,722.3 277.4,722.3 279.0,722.7 280.6,722.8 282.1,722.3 283.7,723.0 285.3,723.0 286.9,723.1 288.5,723.5 290.1,722.9 291.6,723.1 293.2,723.7 294.8,723.9 296.4,723.8 298.0,723.7 299.5,724.0 301.1,724.3 302.7,723.9 304.3,724.2 305.9,724.3 307.5,724.3 309.0,724.7 310.6,724.6 312.2,724.9 313.8,724.7 315.4,724.7 316.9,725.0 318.5,724.6 320.1,725.0 321.7,724.7 323.3,724.6 324.9,725.2 326.4,724.7 328.0,725.2 329.6,724.9 331.2,724.9 332.8,724.7 334.3,723.9 335.9,723.9 337.5,723.4 339.1,723.8 340.7,723.5 342.3,723.1 343.8,722.7 345.4,722.4 347.0,722.3 348.6,722.5 350.2,722.3 351.7,722.4 353.3,722.0 354.9,722.1 356.5,722.0 358.1,722.5 359.7,722.3 361.2,722.0 362.8,722.6 364.4,722.3 366.1,722.7 367.9,723.3 369.6,723.6 371.4,724.2 373.1,724.9 374.8,724.1 376.6,722.7 378.3,721.5 380.1,720.7 381.8,719.7 383.5,719.6 385.3,720.0 387.0,719.4 388.7,720.1 390.5,719.3 392.2,719.7 393.9,720.9 395.6,721.5 397.4,722.0 399.1,723.1 400.9,722.4 402.6,721.6 404.4,721.0 406.1,720.5 407.7,719.4 409.2,718.7 410.8,718.3 412.3,717.5 413.9,716.2 415.4,717.2 416.9,717.2 418.5,718.0 420.0,718.8 421.5,720.2 423.1,720.6 424.6,722.2 426.1,723.1 427.7,722.3 429.3,722.1 430.8,720.7 432.4,720.6 434.0,719.7 435.5,719.2 437.0,718.7 438.5,718.3 440.1,718.6 441.6,718.0 443.1,717.4 444.6,717.3 446.1,717.0 447.6,717.7 449.2,717.4 450.7,718.1 452.2,718.0 453.7,718.4 455.2,719.2 456.8,719.5 458.3,719.7 459.9,719.6 461.5,719.7 463.0,719.8 464.6,720.4 466.2,720.5 467.8,720.5 469.4,720.6 471.0,721.0 472.5,721.3 474.1,721.5 475.7,721.4 477.3,721.4 478.9,721.0 480.4,720.8 482.0,721.3 483.6,720.9 485.2,721.1 486.8,720.5 488.4,721.0 489.9,720.5 491.5,720.8 493.1,720.5 494.8,720.5 496.6,720.0 498.3,719.7 500.2,716.6 502.0,714.8 503.9,711.8 505.6,711.8 507.4,712.2 509.1,711.6 510.9,711.5 512.6,711.8 514.1,711.8 515.6,710.9 517.1,710.3 518.6,710.2 520.1,710.0 521.6,709.1 523.1,709.2 524.8,708.2 526.6,707.1 528.3,706.1 530.1,704.6 531.8,704.0 533.5,704.8 535.3,705.4 537.0,706.0 538.8,705.9 540.5,706.6 542.2,704.8 544.0,702.4 545.7,700.5 547.5,702.1 549.2,702.6 551.0,704.8 552.7,705.7 554.4,704.3 556.2,701.8 557.9,699.9 559.6,697.9 561.4,697.1 563.1,696.2 564.9,694.6 566.6,694.4 568.0,697.4 569.5,698.7 570.9,701.4 572.6,699.8 574.4,698.6 576.1,697.9 577.6,699.3 579.2,701.8 580.7,702.6 582.2,704.9 584.0,705.5 585.7,707.3 587.5,707.8 589.2,709.2 590.9,709.0 592.7,709.9 594.4,710.1 596.1,708.0 597.9,705.7 600.0,706.1 601.5,707.6 602.9,709.2 604.4,710.4 605.9,709.1 607.5,709.0 609.0,708.0 610.5,706.9 612.0,707.6 613.4,708.8 614.9,710.4 616.6,707.8 618.4,705.2 620.0,705.0 621.5,704.5 623.0,704.1 624.6,704.3 626.4,709.0 628.1,713.9 629.6,713.6 631.0,714.0 632.5,713.9 633.9,713.1 635.4,711.2 636.8,710.4 638.3,710.6 639.7,711.0 641.2,710.5 642.7,711.3 644.1,711.6 645.6,711.3 647.1,709.1 648.5,707.1 650.0,705.2 651.5,705.9 652.9,705.8 654.4,706.1 656.1,707.4 657.9,709.4 659.6,710.4 661.1,710.3 662.7,709.4 664.2,708.9 665.8,708.7 667.3,709.7 668.7,711.0 670.2,712.2 672.0,713.3 673.7,713.8 675.5,714.5 677.2,714.8 679.0,715.3 680.7,715.6 682.5,715.1 684.2,715.7 686.0,716.4 687.7,717.4 689.5,718.0 691.2,718.3 692.9,718.5 694.5,719.1 696.2,719.8 697.9,720.1"/>
</g>
<g font-size="11" fill="#505050">
<line x1="162.39999999999998" y1="797.6" x2="189.79999999999998" y2="797.6" stroke="#4670BE" stroke-width="3.2" stroke-linecap="round"/>
<text x="193.7" y="800.6" textLength="45.8" lengthAdjust="spacingAndGlyphs">BOGOTÁ</text>
<line x1="266.59999999999997" y1="797.6" x2="294.0" y2="797.6" stroke="#E87E36" stroke-width="3.2" stroke-linecap="round"/>
<text x="297.6" y="800.6" textLength="61.7" lengthAdjust="spacingAndGlyphs">ANTIOQUIA</text>
<line x1="372.2" y1="797.6" x2="399.6" y2="797.6" stroke="#A5A5A5" stroke-width="3.2" stroke-linecap="round"/>
<text x="403" y="800.6" textLength="31.3" lengthAdjust="spacingAndGlyphs">VALLE</text>
<line x1="476.5" y1="797.6" x2="503.90000000000003" y2="797.6" stroke="#FCC006" stroke-width="3.2" stroke-linecap="round"/>
<text x="507.5" y="800.6" textLength="45.2" lengthAdjust="spacingAndGlyphs">BOLIVAR</text>
<line x1="162.39999999999998" y1="822.2" x2="189.79999999999998" y2="822.2" stroke="#5C98D0" stroke-width="3.2" stroke-linecap="round"/>
<text x="193.7" y="825.8" textLength="42.1" lengthAdjust="spacingAndGlyphs">CUNDIN</text>
<line x1="266.59999999999997" y1="822.2" x2="294.0" y2="822.2" stroke="#6FAA4A" stroke-width="3.2" stroke-linecap="round"/>
<text x="297.6" y="825.8" textLength="59.6" lengthAdjust="spacingAndGlyphs">RISARALDA</text>
<line x1="372.2" y1="822.2" x2="399.6" y2="822.2" stroke="#284575" stroke-width="3.2" stroke-linecap="round"/>
<text x="403" y="825.8" textLength="59.3" lengthAdjust="spacingAndGlyphs">ATLANTICO</text>
<line x1="476.5" y1="822.2" x2="503.90000000000003" y2="822.2" stroke="#9B4912" stroke-width="3.2" stroke-linecap="round"/>
<text x="507.5" y="825.8" textLength="69.3" lengthAdjust="spacingAndGlyphs">MAGDALENA</text>
</g>
</svg>
</body></html>
